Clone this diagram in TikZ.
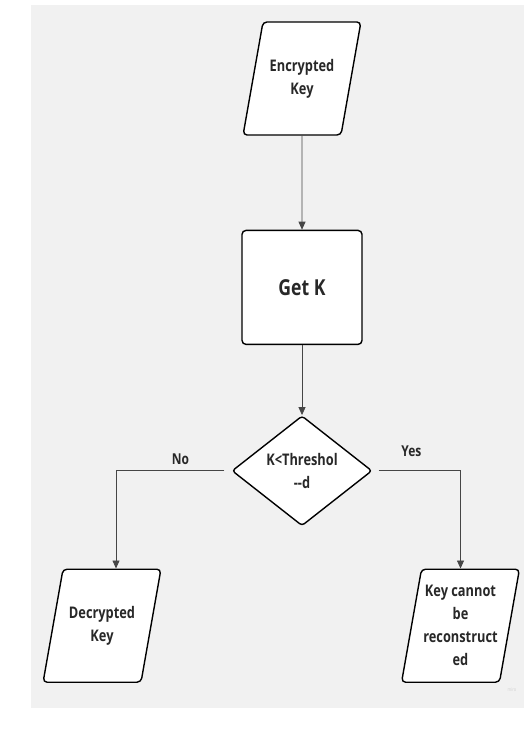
\documentclass[tikz,border=0pt]{standalone}
\usepackage{fontspec}
\setmainfont{Open Sans}[FakeStretch=0.8]
\usetikzlibrary{arrows.meta, positioning, shapes.geometric}
\definecolor{bggray}{RGB}{241,241,241}
\definecolor{linegray}{RGB}{70,70,70}
\definecolor{textdark}{RGB}{40,40,40}

\begin{document}
\begin{tikzpicture}[
                x=1pt, y=1pt,
                node distance=40pt,
                io/.style={trapezium, trapezium left angle=80, trapezium right angle=100, draw, line width=1.4pt, fill=white, rounded corners=4pt, inner sep=0pt, text=textdark, font=\bfseries\fontsize{16}{23}\selectfont,
                    execute at begin node={\begin{minipage}[c][113pt][c]{78pt}\centering},
                    execute at end node={\end{minipage}}},
                process/.style={rectangle, draw, line width=1.4pt, fill=white, rounded corners=4pt, minimum width=120pt, minimum height=114pt, text=textdark, font=\bfseries\fontsize{22}{26}\selectfont},
                decision/.style={diamond, draw, line width=1.4pt, fill=white, rounded corners=3pt, aspect=1.27, minimum width=140pt, minimum height=110pt, inner sep=0pt, align=center, text=textdark, font=\bfseries\fontsize{16}{23}\selectfont},
                line/.style={draw, linegray, line width=0.8pt, -{Triangle[length=8pt, width=7pt]}},
                lbl/.style={text=textdark, font=\bfseries\fontsize{15}{18}\selectfont}
            ]
                % Background
                \fill[white] (0,0) rectangle (524,752);
                \fill[bggray] (31,44) rectangle (524,747);

                % Place nodes
                \node [io] (P_enc) at (302,673.5) {Encrypted\\Key};
                \node [process, below=94pt of P_enc] (P_getk) {Get K};
                \node [decision, below=70pt of P_getk] (P_check) {K<Threshol\\{-}{-}d};
                \node [io, below=42pt of P_check, xshift=-200pt] (P_dec) {Decrypted\\Key};
                \node [io, below=42pt of P_check, xshift=158.5pt] (P_fail) {Key cannot\\be\\reconstruct\\ed};
                \node [text=gray!35, font=\fontsize{5}{6}\selectfont] (P_mark) at (512,62) {miro};

                % Draw edges
                \path [line] (P_enc) -- (P_getk);
                \path [line] (P_getk) -- (P_check);
                \path [line, shorten <=7pt] (P_check.west) -| node [lbl, above=2pt, pos=0.22] {No} ([xshift=14pt]P_dec.north);
                \path [line, shorten <=6pt] (P_check.east) -| node [lbl, above=10pt, pos=0.22] {Yes} (P_fail.north);

            \end{tikzpicture}
\end{document}
